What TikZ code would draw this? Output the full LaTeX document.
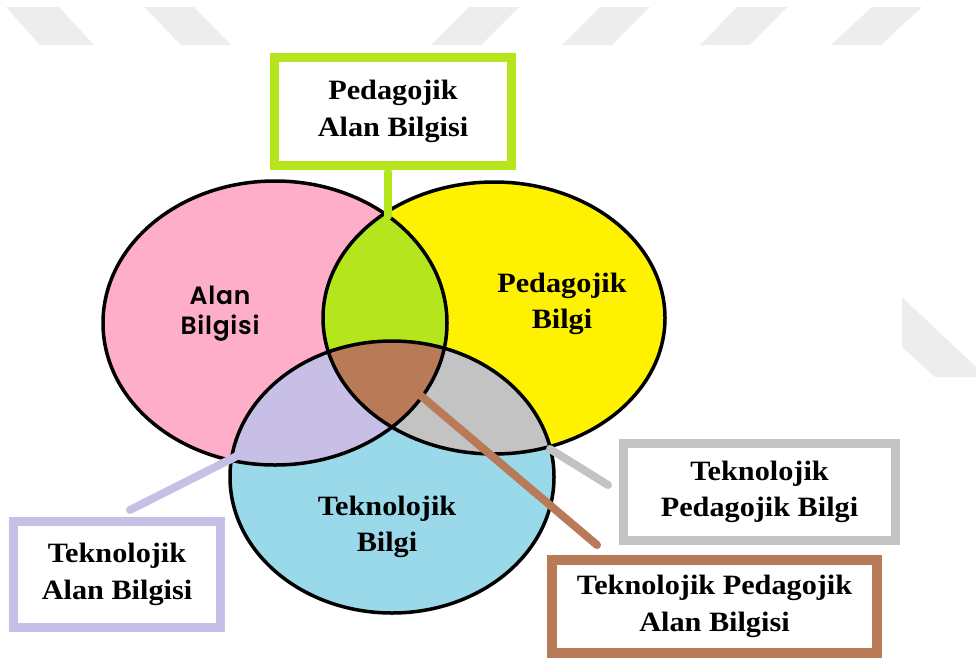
\documentclass[tikz,border=0pt]{standalone}
\usepackage{fontspec}
\setmainfont{Liberation Serif}[FakeStretch=1.08]
\newfontfamily\gothic{Poppins}[BoldFont={Poppins SemiBold}, LetterSpace=3]
\definecolor{cpink}{HTML}{FFAEC9}
\definecolor{cyellow}{HTML}{FFF200}
\definecolor{cgreen}{HTML}{B5E61D}
\definecolor{clav}{HTML}{C8BFE7}
\definecolor{cgrey}{HTML}{C3C3C3}
\definecolor{cblue}{HTML}{99D9EA}
\definecolor{cbrown}{HTML}{B97A57}
\definecolor{cwm}{HTML}{EDEDED}
\tikzset{
  lbl/.style={rectangle, fill=white, line width=9pt, inner sep=0pt, align=center,
    font=\bfseries\fontsize{28}{36.5}\selectfont},
  serifin/.style={align=center, inner sep=0pt, font=\bfseries\fontsize{28}{36.5}\selectfont},
  sansin/.style={align=center, inner sep=0pt, font=\gothic\bfseries\fontsize{25}{30}\selectfont},
  conn/.style={line width=8pt, line cap=round},
  outline/.style={draw=black, line width=3.5pt},
  wm/.style={fill=cwm, draw=none}
}
\begin{document}
\begin{tikzpicture}[x=1pt,y=-1pt]
\useasboundingbox (0,0) rectangle (976,659);
% watermark shapes
\fill[wm] (6,7) -- (59,7) -- (94,45) -- (40,45) -- cycle;
\fill[wm] (144,7) -- (194,7) -- (231,45) -- (181,45) -- cycle;
\fill[wm] (469,7) -- (519,7) -- (481,45) -- (431,45) -- cycle;
\fill[wm] (600,7) -- (650,7) -- (612,45) -- (562,45) -- cycle;
\fill[wm] (737,7) -- (787,7) -- (750,45) -- (700,45) -- cycle;
\fill[wm] (872,7) -- (922,7) -- (881,45) -- (831,45) -- cycle;
\fill[wm] (902,297) -- (976,367) -- (976,377) -- (935,377) -- (902,347) -- cycle;
% Venn circles
\def\pinkE{(275,323) ellipse [x radius=172, y radius=142]}
\def\yellowE{(494,318) ellipse [x radius=171, y radius=136]}
\def\blueE{(392,477) ellipse [x radius=162, y radius=136]}
\fill[cpink] \pinkE;
\fill[cyellow] \yellowE;
\fill[cblue] \blueE;
\begin{scope}
  \clip \pinkE;
  \fill[cgreen] \yellowE;
  \fill[clav] \blueE;
\end{scope}
\begin{scope}
  \clip \yellowE;
  \fill[cgrey] \blueE;
\end{scope}
\begin{scope}
  \clip \pinkE;
  \clip \yellowE;
  \fill[cbrown] \blueE;
\end{scope}
\draw[outline] \pinkE;
\draw[outline] \yellowE;
\draw[outline] \blueE;
% texts inside circles
\node[sansin] (alan) at (220,314) {Alan\\Bilgisi};
\node[serifin] (ped) at (562,304) {Pedagojik\\Bilgi};
\node[serifin] (tek) at (387,527) {Teknolojik\\Bilgi};
% label boxes
\node[lbl, draw=cgreen, minimum width=237pt, minimum height=108pt] (pab) at (393,111.5) {Pedagojik\\Alan Bilgisi};
\node[lbl, draw=clav, minimum width=207pt, minimum height=106pt] (tab) at (117,574.5) {Teknolojik\\Alan Bilgisi};
\node[lbl, draw=cgrey, minimum width=272pt, minimum height=97pt] (tpb) at (759.5,492) {Teknolojik\\Pedagojik Bilgi};
\node[lbl, draw=cbrown, line width=10pt, minimum width=325pt, minimum height=93pt] (tpab) at (714.5,606.5) {Teknolojik Pedagojik\\Alan Bilgisi};
% connector end points
\coordinate (gA) at (388,172);
\coordinate (gB) at (388,216);
\coordinate (lA) at (130,510);
\coordinate (lB) at (237,456);
\coordinate (yA) at (608,485);
\coordinate (yB) at (550,449);
\coordinate (bA) at (597,545);
\coordinate (bB) at (420,395);
% connectors
\draw[conn, cgreen] (gA) -- (gB);
\draw[conn, clav] (lA) -- (lB);
\draw[conn, cgrey] (yA) -- (yB);
\draw[conn, cbrown] (bA) -- (bB);
\end{tikzpicture}
\end{document}
